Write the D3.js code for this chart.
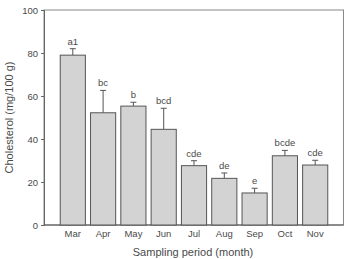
<!DOCTYPE html>
<html><head><meta charset="utf-8">
<script src="https://cdn.jsdelivr.net/npm/d3@7"></script>
<style>body{margin:0;background:#fff}svg{display:block}</style>
</head><body>
<script>
const months = ["Mar","Apr","May","Jun","Jul","Aug","Sep","Oct","Nov"];
const values = [79, 52.2, 55.3, 44.5, 27.6, 21.7, 14.9, 32.2, 27.9];
const errors = [3, 10.4, 1.8, 9.8, 2.3, 2.5, 2.2, 2.5, 2.2];
const letters = ["a1","bc","b","bcd","cde","de","e","bcde","cde"];
const yTicks = [0,20,40,60,80,100];

(function(){
const W=345,H=259;
const svg=d3.select("body").append("svg").attr("width",W).attr("height",H);
const pL=44,pR=343.5,pT=10,pB=225;
const x=d3.scaleBand().domain(months).range([57.65,330.35]).paddingInner(0.17).paddingOuter(0.085);
const y=d3.scaleLinear().domain([0,100]).range([pB,pT]);
const font="Liberation Sans, Arial, sans-serif";
const axisCol="#666";
const txtCol="#4a4a4a";

svg.append("rect").attr("x",pL).attr("y",pT).attr("width",pR-pL).attr("height",pB-pT)
  .attr("fill","none").attr("stroke","#888").attr("stroke-width",1);

const ya=svg.append("g").attr("transform",`translate(${pL},0)`)
  .call(d3.axisLeft(y).tickValues(yTicks).tickSize(3).tickPadding(3));
ya.select(".domain").attr("stroke",axisCol);
ya.selectAll(".tick line").attr("stroke",axisCol);
ya.selectAll("text").attr("font-family",font).attr("font-size",9.5).attr("fill",txtCol);

const xa=svg.append("g").attr("transform",`translate(0,${pB})`)
  .call(d3.axisBottom(x).tickSize(0).tickPadding(5));
xa.select(".domain").remove();
xa.selectAll("text").attr("font-family",font).attr("font-size",9.5).attr("fill",txtCol);
svg.append("line").attr("x1",pL).attr("x2",pR).attr("y1",pB).attr("y2",pB).attr("stroke","#555");

const g=svg.append("g");
months.forEach((m,i)=>{
  const bx=x(m), bw=x.bandwidth(), cx=bx+bw/2;
  const et=y(values[i]+errors[i]);
  g.append("line").attr("x1",cx).attr("x2",cx).attr("y1",y(values[i])).attr("y2",et).attr("stroke","#555").attr("stroke-width",1);
  g.append("line").attr("x1",cx-3).attr("x2",cx+3).attr("y1",et).attr("y2",et).attr("stroke","#555").attr("stroke-width",1);
  g.append("rect").attr("x",bx).attr("y",y(values[i])).attr("width",bw).attr("height",pB-y(values[i]))
    .attr("fill","#d3d3d3").attr("stroke","#555").attr("stroke-width",1);
  g.append("text").attr("x",cx).attr("y",et-4).attr("text-anchor","middle")
    .attr("font-family",font).attr("font-size",9.5).attr("fill",txtCol).text(letters[i]);
});

svg.append("text").attr("x",193).attr("y",255.5).attr("text-anchor","middle")
  .attr("font-family",font).attr("font-size",11).attr("fill",txtCol).text("Sampling period (month)");
svg.append("text").attr("transform",`translate(12.5,${(pT+pB)/2}) rotate(-90)`).attr("text-anchor","middle")
  .attr("font-family",font).attr("font-size",11).attr("fill",txtCol).text("Cholesterol (mg/100 g)");
})();
</script>
</body></html>
